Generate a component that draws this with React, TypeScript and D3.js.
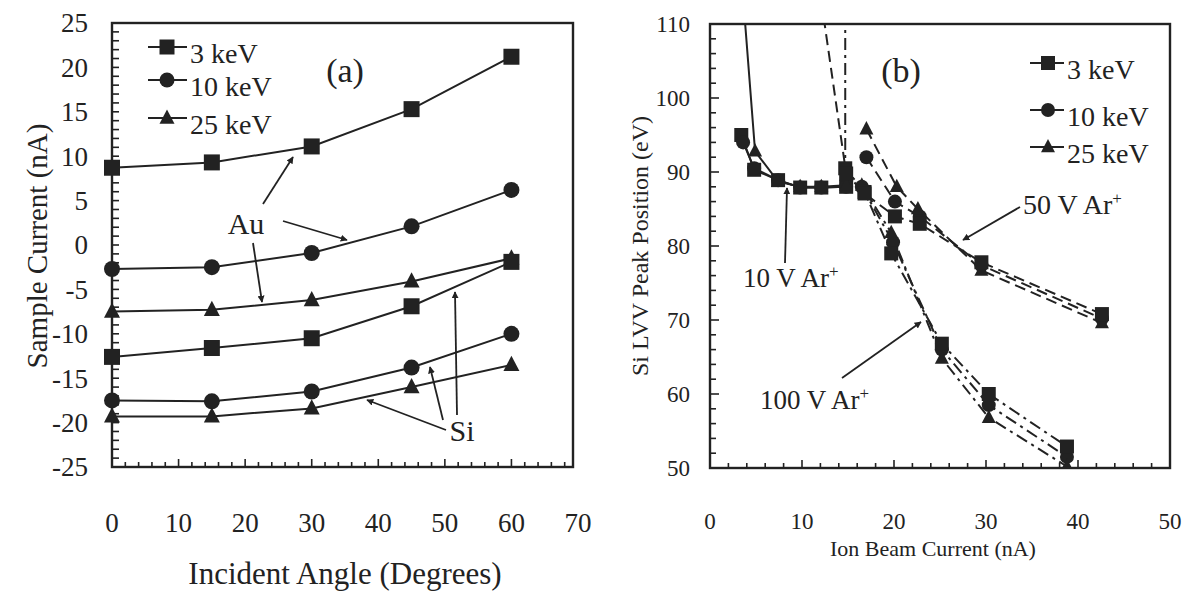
import React from "react";
import * as d3 from "d3";

// ---------- Panel (a) data ----------
const anglesA = [0, 15, 30, 45, 60];
const au3keV = [8.7, 9.3, 11.1, 15.3, 21.2];
const au10keV = [-2.7, -2.5, -0.9, 2.1, 6.2];
const au25keV = [-7.5, -7.3, -6.2, -4.1, -1.5];
const si3keV = [-12.6, -11.6, -10.5, -6.9, -1.9];
const si10keV = [-17.5, -17.6, -16.5, -13.8, -10.0];
const si25keV = [-19.3, -19.3, -18.4, -16.0, -13.5];
const yTicksA = [25, 20, 15, 10, 5, 0, -5, -10, -15, -20, -25];
const xTicksA = [0, 10, 20, 30, 40, 50, 60, 70];

// ---------- Panel (b) data: [ion beam current nA, peak eV] ----------
const ar10V_3keV: [number, number][] = [[3.4, 95], [4.8, 90.3], [7.4, 88.9], [9.8, 87.9], [12.1, 87.9], [14.8, 88]];
const ar10V_10keV: [number, number][] = [[3.6, 94], [4.8, 90.5], [7.4, 88.9], [9.8, 87.9], [12.1, 87.9], [14.8, 88]];
const ar10V_25keV: [number, number][] = [[3.2, 120], [4.9, 92.8], [7.4, 88.7], [9.8, 88], [12.1, 88], [14.8, 88.2]];
const ar50V_3keV: [number, number][] = [[11.3, 120], [14.8, 89.8], [16.8, 87.1], [20.1, 84], [22.8, 83], [29.5, 77.8], [42.6, 70.8]];
const ar50V_10keV: [number, number][] = [[17.0, 92], [20.1, 86], [22.8, 84], [29.5, 77.4], [42.6, 70.2]];
const ar50V_25keV: [number, number][] = [[17.0, 95.8], [20.3, 88], [22.6, 85], [29.5, 76.7], [42.6, 69.6]];
const ar100V_3keV: [number, number][] = [[14.7, 125], [14.7, 90.5], [16.8, 87.3], [19.7, 79], [25.2, 66.8], [30.3, 60], [38.8, 52.9]];
const ar100V_10keV: [number, number][] = [[16.5, 88], [19.9, 80.5], [25.2, 66], [30.3, 58.5], [38.8, 51.5]];
const ar100V_25keV: [number, number][] = [[16.5, 88.2], [19.7, 81.8], [25.2, 64.8], [30.3, 56.8], [38.8, 50.2]];
const yTicksB = [110, 100, 90, 80, 70, 60, 50];
const xTicksB = [0, 10, 20, 30, 40, 50];

const legendLabels = ["3 keV", "10 keV", "25 keV"];
const legendShapes = ["square", "circle", "triangle"];

const INK = "#222";
const FONT = "'Liberation Serif', 'Times New Roman', serif";

function Marker({ shape, x, y, s }: { shape: string; x: number; y: number; s: number }) {
  if (shape === "square") return <rect x={x - s / 2} y={y - s / 2} width={s} height={s} fill={INK} />;
  if (shape === "circle") return <circle cx={x} cy={y} r={s / 2} fill={INK} />;
  const h = s * 0.95;
  return <path d={`M${x},${y - h * 0.6} L${x + s / 2},${y + h * 0.4} L${x - s / 2},${y + h * 0.4} Z`} fill={INK} />;
}

function Arrow({ x1, y1, x2, y2 }: { x1: number; y1: number; x2: number; y2: number }) {
  return <line x1={x1} y1={y1} x2={x2} y2={y2} stroke={INK} strokeWidth={1.8} markerEnd="url(#ah)" />;
}

export default function App() {
  // ----- panel (a) scales -----
  const xa = d3.scaleLinear().domain([0, 70]).range([112, 578]);
  const ya = d3.scaleLinear().domain([-25, 25]).range([467, 23]);
  const lineA = d3.line<number>().x((_, i) => xa(anglesA[i])).y((d) => ya(d));
  const seriesA = [
    { v: au3keV, shape: "square" },
    { v: au10keV, shape: "circle" },
    { v: au25keV, shape: "triangle" },
    { v: si3keV, shape: "square" },
    { v: si10keV, shape: "circle" },
    { v: si25keV, shape: "triangle" },
  ];
  const boxA = { l: 112, r: 573, t: 23, b: 467 };

  // ----- panel (b) scales -----
  const xb = d3.scaleLinear().domain([0, 50]).range([710, 1170]);
  const yb = d3.scaleLinear().domain([50, 110]).range([468, 24]);
  const lineB = d3.line<[number, number]>().x((d) => xb(d[0])).y((d) => yb(d[1]));
  const seriesB = [
    { d: ar10V_3keV, shape: "square", dash: "none" },
    { d: ar10V_10keV, shape: "circle", dash: "none" },
    { d: ar10V_25keV, shape: "triangle", dash: "none" },
    { d: ar100V_10keV, shape: "circle", dash: "12,5,3,5" },
    { d: ar100V_25keV, shape: "triangle", dash: "12,5,3,5" },
    { d: ar100V_3keV, shape: "square", dash: "12,5,3,5" },
    { d: ar50V_10keV, shape: "circle", dash: "11,6" },
    { d: ar50V_25keV, shape: "triangle", dash: "11,6" },
    { d: ar50V_3keV, shape: "square", dash: "11,6" },
  ];
  const boxB = { l: 710, r: 1170, t: 24, b: 468 };

  const minorYA = d3.range(-25, 25.01, 1);
  const minorXA = d3.range(0, 69.9, 2);
  const minorYB = d3.range(50, 110.01, 2);
  const minorXB = d3.range(0, 50.01, 2);

  return (
    <svg width={1183} height={592} style={{ position: "absolute", left: 0, top: 0, background: "#fff" }} fontFamily={FONT}>
      <defs>
        <marker id="ah" viewBox="0 0 10 10" refX={9} refY={5} markerWidth={7} markerHeight={7} markerUnits="userSpaceOnUse" orient="auto">
          <path d="M0,0 L10,5 L0,10 Z" fill={INK} />
        </marker>
        <clipPath id="clipB">
          <rect x={boxB.l} y={boxB.t} width={boxB.r - boxB.l} height={boxB.b - boxB.t} />
        </clipPath>
      </defs>
      <rect width={1183} height={592} fill="#fff" />

      {/* ================= Panel (a) ================= */}
      <g>
        {minorYA.map((v) => (
          <line key={"ya" + v} x1={boxA.l} x2={boxA.l + 7} y1={ya(v)} y2={ya(v)} stroke={INK} strokeWidth={1.6} />
        ))}
        {minorXA.map((v) => (
          <line key={"xa" + v} x1={xa(v)} x2={xa(v)} y1={boxA.b} y2={boxA.b - (v % 10 === 0 ? 8 : 5)} stroke={INK} strokeWidth={1.6} />
        ))}
        <rect x={boxA.l} y={boxA.t} width={boxA.r - boxA.l} height={boxA.b - boxA.t} fill="none" stroke={INK} strokeWidth={2.4} />
        {yTicksA.map((v) => (
          <text key={"tya" + v} x={88} y={ya(v)} dy="0.35em" textAnchor="end" fontSize={27} fill={INK}>{v}</text>
        ))}
        {xTicksA.map((v) => (
          <text key={"txa" + v} x={xa(v)} y={532} textAnchor="middle" fontSize={27} fill={INK}>{v}</text>
        ))}
        <text x={345} y={584} textAnchor="middle" fontSize={31} fill={INK}>Incident Angle (Degrees)</text>
        <text transform={`translate(47,246) rotate(-90)`} textAnchor="middle" fontSize={29} fill={INK}>Sample Current (nA)</text>

        {seriesA.map((s, k) => (
          <g key={"sa" + k}>
            <path d={lineA(s.v) || ""} fill="none" stroke={INK} strokeWidth={2} />
            {s.v.map((v, i) => (
              <Marker key={i} shape={s.shape} x={xa(anglesA[i])} y={ya(v)} s={16} />
            ))}
          </g>
        ))}

        {legendLabels.map((lab, i) => {
          const yy = [47, 80, 118][i];
          return (
            <g key={"la" + i}>
              <line x1={148} x2={187} y1={yy} y2={yy} stroke={INK} strokeWidth={2} />
              <Marker shape={legendShapes[i]} x={167} y={yy} s={15} />
              <text x={190} y={yy + 16} fontSize={28} fill={INK}>{lab}</text>
            </g>
          );
        })}
        <text x={345} y={82} textAnchor="middle" fontSize={34} fill={INK}>(a)</text>

        <text x={246} y={234} textAnchor="middle" fontSize={30} fill={INK}>Au</text>
        <Arrow x1={263} y1={204} x2={293} y2={157} />
        <Arrow x1={283} y1={221} x2={347} y2={240} />
        <Arrow x1={253} y1={243} x2={262} y2={302} />

        <text x={462} y={441} textAnchor="middle" fontSize={30} fill={INK}>Si</text>
        <Arrow x1={446} y1={430} x2={367} y2={400} />
        <Arrow x1={443} y1={420} x2={430} y2={367} />
        <Arrow x1={457} y1={415} x2={455} y2={292} />
      </g>

      {/* ================= Panel (b) ================= */}
      <g>
        {minorYB.map((v) => (
          <line key={"yb" + v} x1={boxB.l} x2={boxB.l + (v % 10 === 0 ? 9 : 6)} y1={yb(v)} y2={yb(v)} stroke={INK} strokeWidth={1.6} />
        ))}
        {minorXB.map((v) => (
          <line key={"xb" + v} x1={xb(v)} x2={xb(v)} y1={boxB.b} y2={boxB.b - (v % 10 === 0 ? 8 : 5)} stroke={INK} strokeWidth={1.6} />
        ))}
        <rect x={boxB.l} y={boxB.t} width={boxB.r - boxB.l} height={boxB.b - boxB.t} fill="none" stroke={INK} strokeWidth={2.4} />
        {yTicksB.map((v) => (
          <text key={"tyb" + v} x={690} y={yb(v)} dy="0.35em" textAnchor="end" fontSize={23} fill={INK}>{v}</text>
        ))}
        {xTicksB.map((v) => (
          <text key={"txb" + v} x={xb(v)} y={529} textAnchor="middle" fontSize={23} fill={INK}>{v}</text>
        ))}
        <text x={933} y={556} textAnchor="middle" fontSize={22} fill={INK}>Ion Beam Current (nA)</text>
        <text transform={`translate(648,246) rotate(-90)`} textAnchor="middle" fontSize={24} fill={INK}>Si LVV Peak Position (eV)</text>

        <g clipPath="url(#clipB)">
          {seriesB.map((s, k) => (
            <path key={"lb" + k} d={lineB(s.d) || ""} fill="none" stroke={INK} strokeWidth={2} strokeDasharray={s.dash} />
          ))}
          {seriesB.map((s, k) => (
            <g key={"mb" + k}>
              {s.d.map((p, i) => (
                <Marker key={i} shape={s.shape} x={xb(p[0])} y={yb(p[1])} s={14} />
              ))}
            </g>
          ))}
        </g>

        {legendLabels.map((lab, i) => {
          const yy = [63, 110, 147][i];
          return (
            <g key={"lb" + i}>
              <line x1={1030} x2={1064} y1={yy} y2={yy} stroke={INK} strokeWidth={2} />
              <Marker shape={legendShapes[i]} x={1048} y={yy} s={14} />
              <text x={1067} y={yy + 16} fontSize={28} fill={INK}>{lab}</text>
            </g>
          );
        })}
        <text x={901} y={82} textAnchor="middle" fontSize={34} fill={INK}>(b)</text>

        <text x={1023} y={214} fontSize={28} fill={INK}>50 V Ar<tspan fontSize={17} dy={-10}>+</tspan></text>
        <Arrow x1={1020} y1={207} x2={963} y2={240} />
        <text x={743} y={287} fontSize={27} fill={INK}>10 V Ar<tspan fontSize={17} dy={-10}>+</tspan></text>
        <Arrow x1={785} y1={263} x2={787} y2={188} />
        <text x={760} y={409} fontSize={27} fill={INK}>100 V Ar<tspan fontSize={17} dy={-10}>+</tspan></text>
        <Arrow x1={842} y1={378} x2={921} y2={322} />
      </g>
    </svg>
  );
}
